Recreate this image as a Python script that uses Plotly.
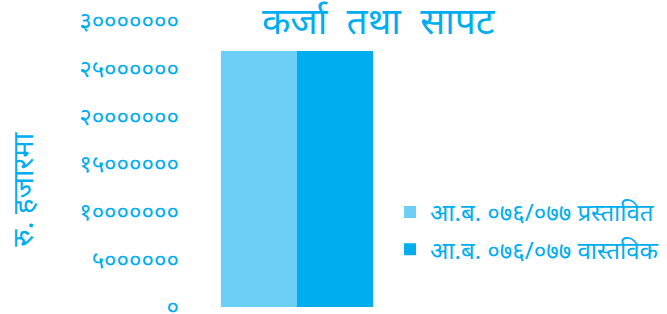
import plotly.graph_objects as go

categories = ["कर्जा तथा सापट"]
series_names = ["आ.ब. ०७६/०७७ प्रस्तावित", "आ.ब. ०७६/०७७ वास्तविक"]
proposed = [26850000]
actual = [26850000]
tick_vals = [0, 5000000, 10000000, 15000000, 20000000, 25000000, 30000000]
tick_text = ["०", "५००००००", "१०००००००", "१५००००००", "२०००००००", "२५००००००", "३०००००००"]

blue = "#00AEEF"
light = "#6DCFF6"
font_family = "Noto Sans, sans-serif"
title_text = "कर्जा\u00a0\u00a0तथा\u00a0\u00a0सापट"

fig = go.Figure()
fig.add_trace(go.Bar(x=categories, y=proposed, name=series_names[0], legendgroup="a",
                     marker=dict(color=light, line=dict(width=0))))
fig.add_trace(go.Bar(x=categories, y=actual, name=series_names[1], legendgroup="b",
                     marker=dict(color=blue, line=dict(width=0))))

fig.update_layout(
    width=667, height=314,
    margin=dict(l=192, r=265, t=21, b=7, autoexpand=False),
    paper_bgcolor="white", plot_bgcolor="white",
    barmode="group", bargap=0.275, bargroupgap=0,
    font=dict(family=font_family, color=blue),
    title=dict(text=title_text, x=0.567, xanchor="center", y=0.975, yanchor="top",
               font=dict(size=37, color=blue, family=font_family)),
    showlegend=True,
    legend=dict(x=0.943, xanchor="left", y=0.266, yanchor="middle",
                font=dict(size=24, color=blue, family=font_family),
                itemwidth=30, tracegroupgap=3, bgcolor="rgba(0,0,0,0)"),
    xaxis=dict(showticklabels=False, showline=False, showgrid=False, zeroline=False),
    yaxis=dict(range=[0, 30000000], tickvals=tick_vals, ticktext=tick_text,
               showgrid=False, zeroline=False, showline=False, automargin=False,
               ticklabeloverflow="allow",
               tickfont=dict(size=24, color=blue, family=font_family), ticklabelstandoff=12),
)
fig.add_annotation(text="रु. हजारमा", textangle=-90, xref="paper", yref="paper",
                   x=-0.81, xanchor="center", y=0.41, yanchor="middle", showarrow=False,
                   font=dict(size=29, color=blue, family=font_family))

fig.write_html("out.html", config={"displayModeBar": False},
               post_script="document.body.style.margin='0';")
